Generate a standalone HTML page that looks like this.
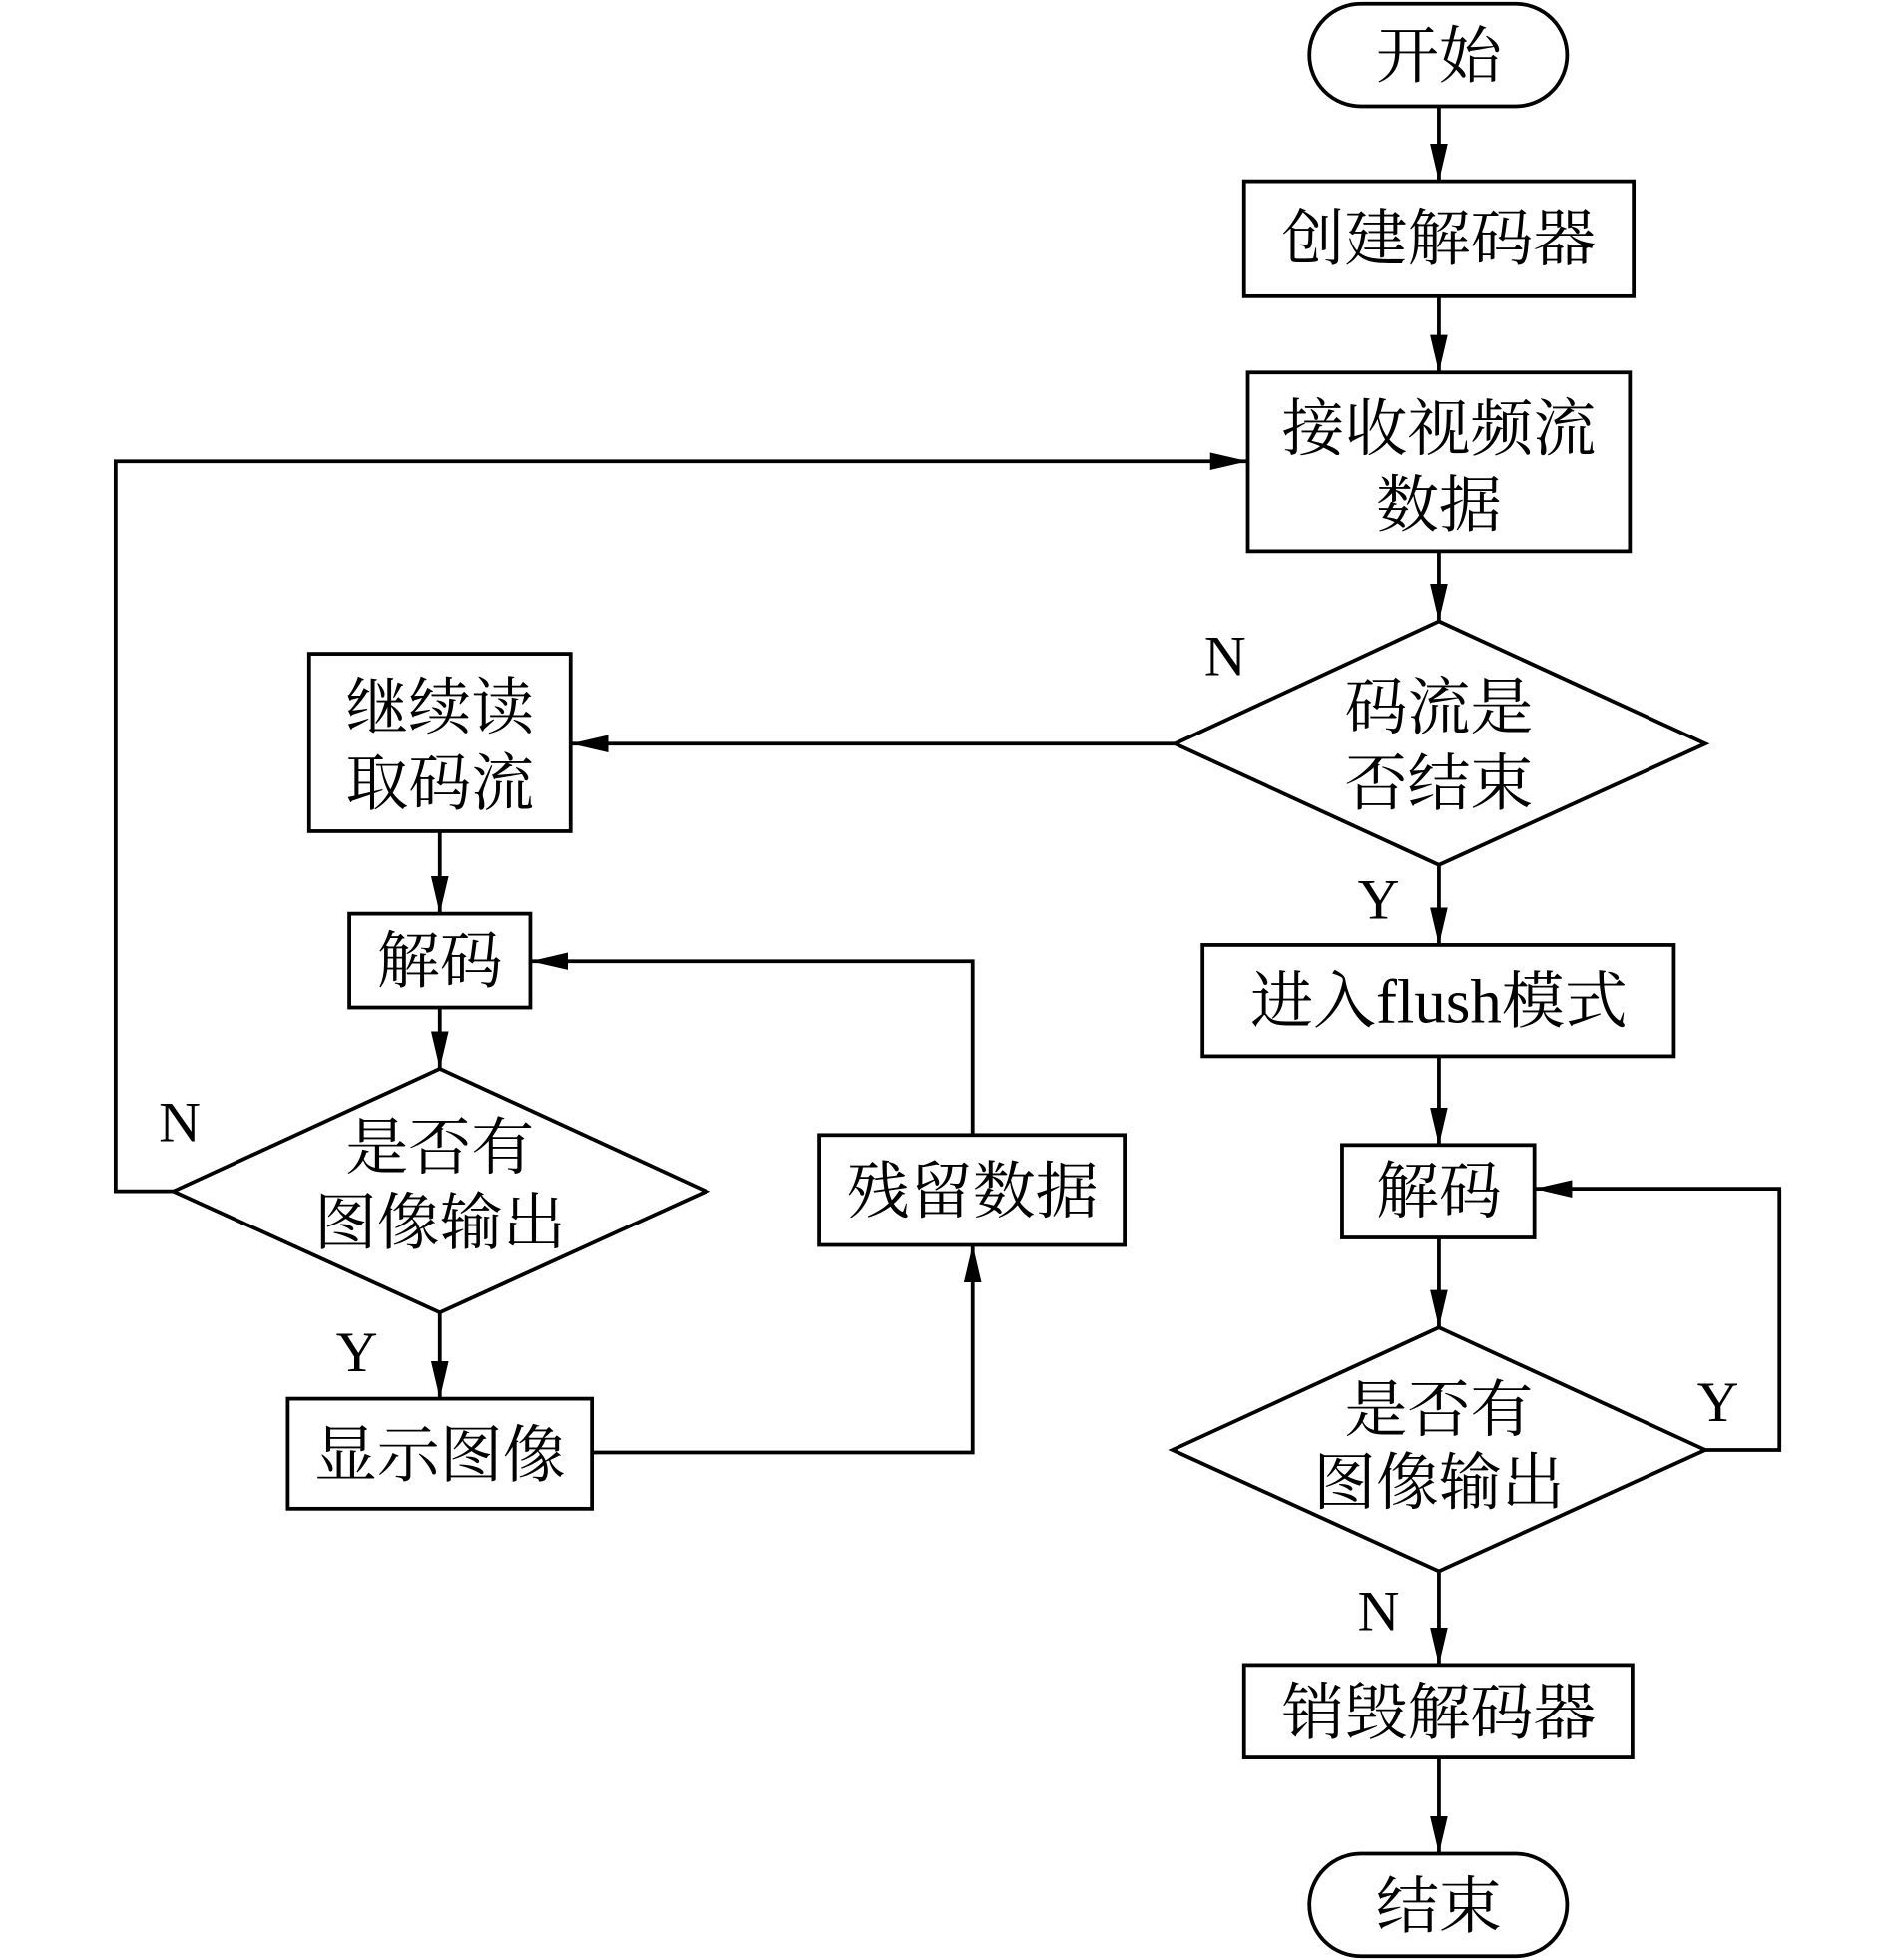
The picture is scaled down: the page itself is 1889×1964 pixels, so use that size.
<!DOCTYPE html>
<html><head><meta charset="utf-8"><style>html,body{margin:0;padding:0;background:#fff}svg{display:block}</style></head><body>
<svg width="1889" height="1964" viewBox="0 0 1500 1568" preserveAspectRatio="none" xmlns="http://www.w3.org/2000/svg">
<defs><marker id="a" viewBox="0 0 10 10" refX="10" refY="5" markerWidth="10" markerHeight="10" markerUnits="userSpaceOnUse" orient="auto"><path d="M0,0 L10,5 L0,10 z" fill="#000"/></marker>
<marker id="b" viewBox="0 0 30 14" refX="30" refY="7" markerWidth="30" markerHeight="14" markerUnits="userSpaceOnUse" orient="auto"><path d="M0,0 L30,7 L0,14 z" fill="#000"/></marker></defs>
<g fill="none" stroke="#000" stroke-width="3">
<rect x="1042" y="3" width="205" height="82" rx="41"/>
<rect x="990" y="145" width="310" height="92"/>
<rect x="993" y="298" width="304" height="143"/>
<polygon points="1145,497 1357,595 1145,692 935,595"/>
<rect x="246" y="523" width="208" height="142"/>
<rect x="957" y="756" width="375" height="89"/>
<rect x="1068" y="916" width="153" height="74"/>
<polygon points="1145,1062 1357,1160 1145,1257 933,1160"/>
<rect x="990" y="1332" width="309" height="74"/>
<rect x="1042" y="1483" width="205" height="82" rx="41"/>
<rect x="278" y="731" width="144" height="75"/>
<polygon points="350,855 562,953 350,1050 138,953"/>
<rect x="229" y="1119" width="242" height="88"/>
<rect x="652" y="908" width="243" height="88"/>
<g marker-end="url(#b)">
<line x1="1145" y1="85" x2="1145" y2="145"/>
<line x1="1145" y1="237" x2="1145" y2="298"/>
<line x1="1145" y1="441" x2="1145" y2="497"/>
<line x1="935" y1="595" x2="454" y2="595"/>
<line x1="1145" y1="692" x2="1145" y2="756"/>
<line x1="1145" y1="845" x2="1145" y2="916"/>
<line x1="1145" y1="990" x2="1145" y2="1062"/>
<polyline points="1357,1160 1416,1160 1416,951 1221,951"/>
<line x1="1145" y1="1257" x2="1145" y2="1332"/>
<line x1="1145" y1="1406" x2="1145" y2="1483"/>
<line x1="350" y1="665" x2="350" y2="731"/>
<line x1="350" y1="806" x2="350" y2="855"/>
<polyline points="138,953 92,953 92,369 993,369"/>
<line x1="350" y1="1050" x2="350" y2="1119"/>
<polyline points="471,1162 774,1162 774,996"/>
<polyline points="774,908 774,769 422,769"/>
</g></g>
<g font-family="'Liberation Serif','Noto Serif CJK SC',serif" font-size="50" text-anchor="middle" fill="#000">
<text x="1145" y="62">开始</text>
<text x="1145" y="208">创建解码器</text>
<text x="1145" y="360">接收视频流</text>
<text x="1145" y="421">数据</text>
<text x="1145" y="583">码流是</text>
<text x="1145" y="644">否结束</text>
<text x="350" y="583">继续读</text>
<text x="350" y="644">取码流</text>
<text x="1145" y="818">进入flush模式</text>
<text x="1145" y="970">解码</text>
<text x="1145" y="1145">是否有</text>
<text x="1145" y="1203">图像输出</text>
<text x="1145" y="1387">销毁解码器</text>
<text x="1145" y="1542">结束</text>
<text x="350" y="786">解码</text>
<text x="350" y="935">是否有</text>
<text x="350" y="995">图像输出</text>
<text x="350" y="1181">显示图像</text>
<text x="774" y="970">残留数据</text>
<text x="975" y="540" font-size="46">N</text>
<text x="1097" y="735" font-size="46">Y</text>
<text x="1367" y="1137" font-size="46">Y</text>
<text x="1097" y="1304" font-size="46">N</text>
<text x="143" y="913" font-size="46">N</text>
<text x="284" y="1097" font-size="46">Y</text>
</g></svg></body></html>
